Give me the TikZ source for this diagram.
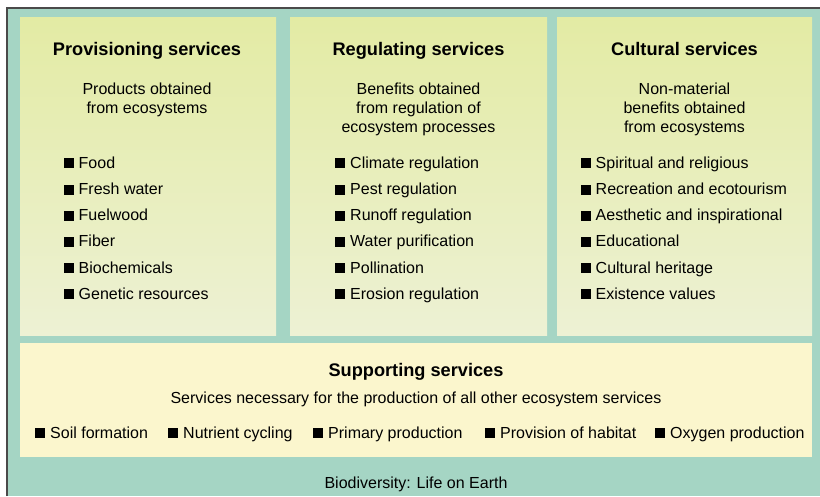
\documentclass[tikz,border=0pt]{standalone}
\usepackage{fontspec}
\setmainfont{Liberation Sans}
\usetikzlibrary{positioning}

\definecolor{bgteal}{HTML}{A5D5C4}
\definecolor{paneltop}{HTML}{E3EBA4}
\definecolor{panelbot}{HTML}{EDF1D4}
\definecolor{suppfill}{HTML}{FBF6CD}
\definecolor{framegray}{HTML}{4A4A4A}

\newcommand{\sq}{\rule{10pt}{10pt}\hspace{5pt}}

\tikzset{
  panel/.style={top color=paneltop, bottom color=panelbot, draw=none},
  headtxt/.style={font=\fontsize{18.2}{22}\selectfont\bfseries, inner sep=0pt, anchor=base},
  subtxt/.style={font=\fontsize{16}{19}\selectfont, inner sep=0pt, anchor=base},
  itemtxt/.style={font=\fontsize{16}{19}\selectfont, inner sep=0pt, anchor=base west},
}

\begin{document}
\begin{tikzpicture}[x=1pt, y=-1pt]
  % page and frame
  \useasboundingbox (0,0) rectangle (820,496);
  \fill[white] (0,0) rectangle (820,496);
  \fill[bgteal] (7,8) rectangle (820,496);
  \draw[framegray, line width=1.2pt] (7,496) -- (7,8) -- (820,8);

  % three upper panels
  \fill[panel] (20,17) rectangle (276,335);
  \fill[panel] (290,17) rectangle (547,335);
  \fill[panel] (557,17) rectangle (812,335);
  % supporting panel
  \fill[suppfill] (20,343) rectangle (812,457);

  % headings
  \node[headtxt] (prov) at (147,55) {Provisioning services};
  \node[headtxt] (regu) at (418.5,55) {Regulating services};
  \node[headtxt] (cult) at (684.5,55) {Cultural services};

  % short descriptions
  \foreach \t [count=\i] in {Products obtained, from ecosystems}
    \node[subtxt] (prov-d\i) at (147,{75+19*\i}) {\t};
  \foreach \t [count=\i] in {Benefits obtained, from regulation of, ecosystem processes}
    \node[subtxt] (regu-d\i) at (418.5,{75+19*\i}) {\t};
  \foreach \t [count=\i] in {Non-material, benefits obtained, from ecosystems}
    \node[subtxt] (cult-d\i) at (684.5,{75+19*\i}) {\t};

  % item lists
  \foreach \t [count=\i] in {Food, Fresh water, Fuelwood, Fiber, Biochemicals, Genetic resources}
    \node[itemtxt] (prov-i\i) at (63.5,{142.1+26.2*\i}) {\sq\t};
  \foreach \t [count=\i] in {Climate regulation, Pest regulation, Runoff regulation,
      Water purification, Pollination, Erosion regulation}
    \node[itemtxt] (regu-i\i) at (335,{142.1+26.2*\i}) {\sq\t};
  \foreach \t [count=\i] in {Spiritual and religious, Recreation and ecotourism,
      Aesthetic and inspirational, Educational, Cultural heritage, Existence values}
    \node[itemtxt] (cult-i\i) at (580.5,{142.1+26.2*\i}) {\sq\t};

  % supporting services
  \node[headtxt] (supp) at (416,376.5) {Supporting services};
  \node[subtxt] (supp-d) at (416,403) {Services necessary for the production of all other ecosystem services};
  \foreach \t/\xx [count=\i] in {Soil formation/35, Nutrient cycling/168, Primary production/313,
      Provision of habitat/485, Oxygen production/655}
    \node[itemtxt] (supp-i\i) at (\xx,438) {\sq\t};

  \node[subtxt] (bio) at (416,488) {Biodiversity: Life on Earth};
\end{tikzpicture}
\end{document}
